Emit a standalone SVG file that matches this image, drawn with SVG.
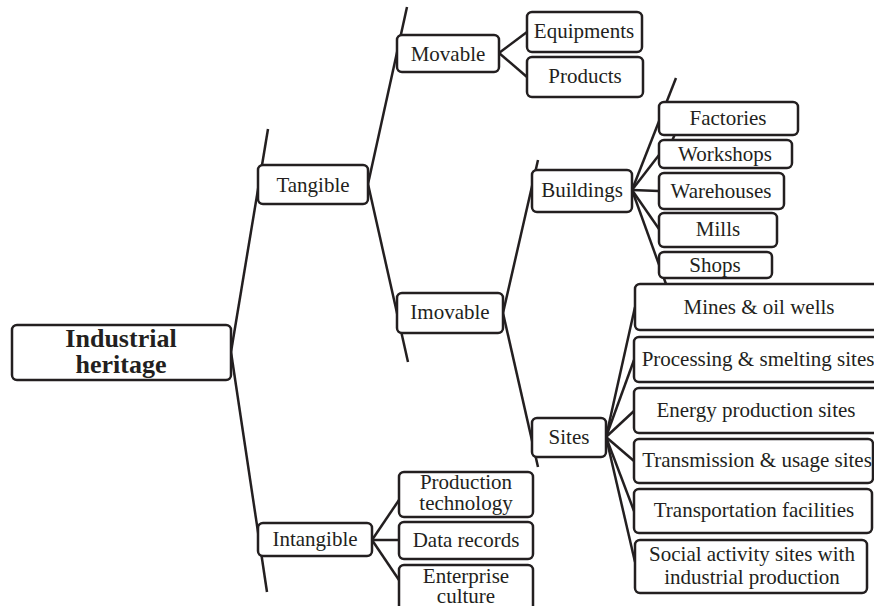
<svg xmlns="http://www.w3.org/2000/svg" width="874" height="606" viewBox="0 0 874 606">
<style>
.b{fill:#fff;stroke:#231f20;stroke-width:2.5;}
text{font-family:'Liberation Serif','Times New Roman','DejaVu Serif',serif;font-size:21px;fill:#231f20;text-anchor:middle;}
.r{font-weight:bold;font-size:26px;}
.c line{stroke:#231f20;stroke-width:2.5;stroke-linecap:butt;}
</style>
<rect width="874" height="606" fill="#fff"/>
<g id="connectors" class="c">
<line x1="268" y1="129" x2="231" y2="352"/>
<line x1="231" y1="352" x2="267" y2="592"/>
<line x1="368" y1="184" x2="407" y2="7"/>
<line x1="368" y1="184" x2="408" y2="362"/>
<line x1="499" y1="53" x2="527" y2="32"/>
<line x1="499" y1="53" x2="527" y2="77"/>
<line x1="503" y1="313" x2="538" y2="160"/>
<line x1="503" y1="313" x2="538" y2="467"/>
<line x1="632" y1="190" x2="676" y2="78"/>
<line x1="632" y1="190" x2="659" y2="155"/>
<line x1="632" y1="190" x2="659" y2="191"/>
<line x1="632" y1="190" x2="659" y2="229"/>
<line x1="632" y1="190" x2="666" y2="284"/>
<line x1="675" y1="134" x2="672" y2="141"/>
<line x1="606" y1="437" x2="635" y2="307"/>
<line x1="606" y1="437" x2="634" y2="360"/>
<line x1="606" y1="437" x2="634" y2="411"/>
<line x1="606" y1="437" x2="634" y2="461"/>
<line x1="606" y1="437" x2="634" y2="511"/>
<line x1="606" y1="437" x2="635" y2="562"/>
<line x1="372" y1="540" x2="399" y2="500"/>
<line x1="372" y1="540" x2="399" y2="540"/>
<line x1="372" y1="540" x2="399" y2="580"/>
</g>
<g id="root"><rect class="b" x="12" y="325" width="219" height="55" rx="5"/><text class="r" x="121" y="347">Industrial</text><text class="r" x="121" y="373">heritage</text></g>
<g id="tangible"><rect class="b" x="258" y="165" width="110" height="39" rx="5"/><text x="313" y="192">Tangible</text></g>
<g id="movable"><rect class="b" x="397" y="35" width="102" height="37" rx="5"/><text x="448" y="61">Movable</text></g>
<g id="equipments"><rect class="b" x="527" y="12" width="115" height="40" rx="5"/><text x="584" y="38">Equipments</text></g>
<g id="products"><rect class="b" x="527" y="57" width="116" height="40" rx="5"/><text x="585" y="83">Products</text></g>
<g id="imovable"><rect class="b" x="397" y="293" width="106" height="40" rx="5"/><text x="450" y="319">Imovable</text></g>
<g id="buildings"><rect class="b" x="532" y="170" width="100" height="42" rx="5"/><text x="582" y="197">Buildings</text></g>
<g id="sites"><rect class="b" x="532" y="418" width="74" height="39" rx="5"/><text x="569" y="444">Sites</text></g>
<g id="factories"><rect class="b" x="659" y="102" width="139" height="33" rx="5"/><text x="728" y="125">Factories</text></g>
<g id="workshops"><rect class="b" x="659" y="140" width="133" height="28" rx="5"/><text x="725" y="161">Workshops</text></g>
<g id="warehouses"><rect class="b" x="659" y="173" width="125" height="36" rx="5"/><text x="721" y="198">Warehouses</text></g>
<g id="mills"><rect class="b" x="659" y="213" width="118" height="34" rx="5"/><text x="718" y="236">Mills</text></g>
<g id="shops"><rect class="b" x="659" y="252" width="113" height="26" rx="5"/><text x="715" y="272">Shops</text></g>
<g id="mines"><rect class="b" x="635" y="284" width="250" height="46" rx="5"/><text x="759" y="314">Mines &amp; oil wells</text></g>
<g id="processing"><rect class="b" x="634" y="337" width="250" height="45" rx="5"/><text x="758" y="366">Processing &amp; smelting sites</text></g>
<g id="energy"><rect class="b" x="634" y="388" width="250" height="45" rx="5"/><text x="756" y="417">Energy production sites</text></g>
<g id="transmission"><rect class="b" x="634" y="439" width="239" height="44" rx="5"/><text x="757" y="467">Transmission &amp; usage sites</text></g>
<g id="transportation"><rect class="b" x="634" y="489" width="238" height="44" rx="5"/><text x="754" y="517">Transportation facilities</text></g>
<g id="social"><rect class="b" x="635" y="540" width="232" height="53" rx="5"/><text x="752" y="561">Social activity sites with</text><text x="752" y="584">industrial production</text></g>
<g id="intangible"><rect class="b" x="258" y="523" width="114" height="33" rx="5"/><text x="315" y="546">Intangible</text></g>
<g id="production-technology"><rect class="b" x="399" y="472" width="134" height="45" rx="5"/><text x="466" y="489">Production</text><text x="466" y="510">technology</text></g>
<g id="data-records"><rect class="b" x="399" y="522" width="134" height="37" rx="5"/><text x="466" y="547">Data records</text></g>
<g id="enterprise-culture"><rect class="b" x="399" y="565" width="134" height="50" rx="5"/><text x="466" y="583">Enterprise</text><text x="466" y="603">culture</text></g>
</svg>
